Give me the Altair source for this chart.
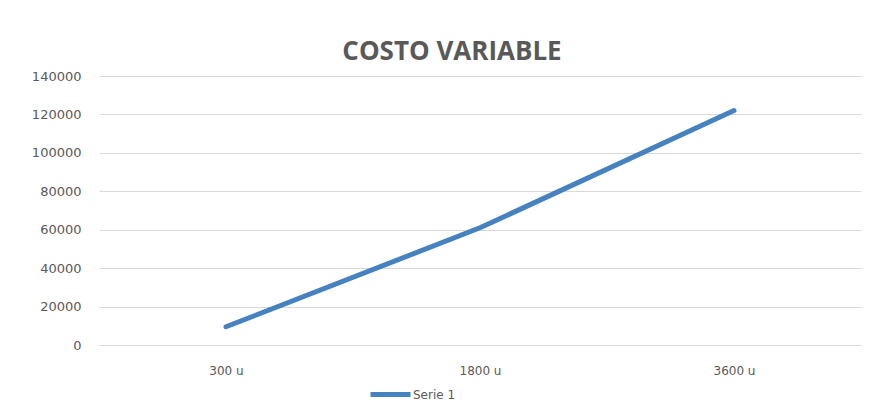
import altair as alt
import pandas as pd

categories = ["300 u", "1800 u", "3600 u"]
values = [9500, 61000, 122000]
series = ["Serie 1", "Serie 1", "Serie 1"]

df = pd.DataFrame({"cat": categories, "val": values, "serie": series})

FONT = "DejaVu Sans"
TFONT = "Open Sans"
GRAY = "#595959"

chart = alt.Chart(df).mark_line(strokeWidth=5, strokeCap="round").encode(
    x=alt.X("cat:N", sort=categories, title=None,
            scale=alt.Scale(paddingInner=0, paddingOuter=0),
            axis=alt.Axis(labelAngle=0, labelPadding=20, tickSize=0,
                          domainColor="#d9d9d9", labelColor=GRAY,
                          labelFontSize=12, labelFont=FONT, grid=False)),
    y=alt.Y("val:Q", title=None,
            scale=alt.Scale(domain=[0, 140000]),
            axis=alt.Axis(values=list(range(0, 140001, 20000)), tickSize=0,
                          labelPadding=18, domain=False, gridColor="#d9d9d9",
                          labelColor=GRAY, labelFontSize=13, labelFont=FONT,
                          format="d")),
    color=alt.Color("serie:N", scale=alt.Scale(range=["#4782c0"]),
                    legend=alt.Legend(title=None, orient="none", legendX=269,
                                      legendY=296, symbolType="stroke",
                                      symbolSize=1600, symbolStrokeWidth=5,
                                      labelFontSize=12, labelFont=FONT,
                                      labelColor=GRAY, labelOffset=0)),
).properties(
    width=762,
    height=269,
    background="white",
    title=alt.TitleParams("COSTO VARIABLE", fontSize=26, font=TFONT,
                          fontWeight="bold", color=GRAY, offset=5, dx=-28,
                          anchor="middle"),
    autosize=alt.AutoSizeParams(type="none"),
    padding={"left": 91, "top": 68, "right": 11, "bottom": 60},
).configure_view(stroke=None)

chart.save("out.html", embed_options={"renderer": "svg", "actions": False})
